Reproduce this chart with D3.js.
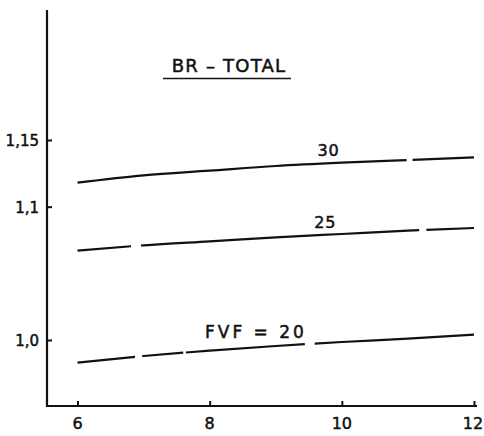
<!DOCTYPE html>
<html>
<head>
<meta charset="utf-8">
<script src="https://cdn.jsdelivr.net/npm/d3@7/dist/d3.min.js"></script>
<style>
  html, body { margin: 0; padding: 0; background: #fff; }
  svg { display: block; }
  text { font-family: "DejaVu Sans", sans-serif; fill: #111; stroke: #111; stroke-width: 0.5; }
</style>
</head>
<body>
<svg id="chart" width="484" height="436"></svg>
<script>
// Tubing size (x) against BR – TOTAL ratio for three FVF values
const xValues = [6, 7, 8, 9, 10, 11, 12];
const fvf30 = [1.118, 1.1235, 1.127, 1.1305, 1.133, 1.135, 1.137];
const fvf25 = [1.067, 1.071, 1.074, 1.077, 1.0795, 1.082, 1.084];
const fvf20 = [0.983, 0.988, 0.992, 0.9955, 0.9985, 1.001, 1.004];
const seriesLabels = ["30", "25", "FVF = 20"];
const xTicks = [6, 8, 10, 12];
const yTicks = [1.0, 1.1, 1.15];
const yTickLabels = ["1,0", "1,1", "1,15"];
const title = "BR – TOTAL";

const svg = d3.select("#chart");
const ink = "#111";

const x = d3.scaleLinear().domain([6, 12]).range([77.5, 474]);
const y = d3.scaleLinear().domain([1.0, 1.15]).range([340, 140]);

const axisX = 47, axisBottom = 406, axisTop = 10, axisRight = 477;

// Axis lines
svg.append("line")
  .attr("x1", axisX).attr("x2", axisX)
  .attr("y1", axisTop).attr("y2", axisBottom)
  .attr("stroke", ink).attr("stroke-width", 2.2);
svg.append("line")
  .attr("x1", axisX - 1).attr("x2", axisRight)
  .attr("y1", axisBottom).attr("y2", axisBottom)
  .attr("stroke", ink).attr("stroke-width", 2.2);

// X axis ticks (pointing inward) and labels
const xAxis = d3.axisTop(x).tickValues(xTicks).tickSize(5).tickFormat("");
const gx = svg.append("g").attr("transform", `translate(0,${axisBottom})`).call(xAxis);
gx.select(".domain").remove();
gx.selectAll(".tick line").attr("stroke", ink).attr("stroke-width", 2);
svg.selectAll(".xlab").data(xTicks).join("text")
  .attr("class", "xlab")
  .attr("x", d => x(d) + (d === 12 ? -1 : 0))
  .attr("y", 429)
  .attr("text-anchor", "middle")
  .attr("font-size", 16)
  .text(d => d);

// Y axis ticks (pointing inward) and labels
const yAxis = d3.axisRight(y).tickValues(yTicks).tickSize(5).tickFormat("");
const gy = svg.append("g").attr("transform", `translate(${axisX},0)`).call(yAxis);
gy.select(".domain").remove();
gy.selectAll(".tick line").attr("stroke", ink).attr("stroke-width", 2);
svg.selectAll(".ylab").data(yTicks).join("text")
  .attr("class", "ylab")
  .attr("x", 39)
  .attr("y", d => y(d) + 6)
  .attr("text-anchor", "end")
  .attr("font-size", 15)
  .text((d, i) => yTickLabels[i]);

// Curves, with the small pen lifts of the hand-drawn original (in x units)
const line = d3.line()
  .x((d, i) => x(xValues[i]))
  .y(d => y(d))
  .curve(d3.curveMonotoneX);

const penLifts = [
  [[10.98, 11.07]],
  [[6.81, 6.96], [11.17, 11.28]],
  [[6.87, 6.98], [7.6, 7.64], [9.44, 9.59]]
];

function lengthAtX(node, px) {
  let lo = 0, hi = node.getTotalLength();
  for (let k = 0; k < 30; k++) {
    const mid = (lo + hi) / 2;
    if (node.getPointAtLength(mid).x < px) lo = mid; else hi = mid;
  }
  return lo;
}

[fvf30, fvf25, fvf20].forEach((s, si) => {
  const path = svg.append("path")
    .attr("d", line(s))
    .attr("fill", "none")
    .attr("stroke", ink)
    .attr("stroke-width", 2.2);
  const node = path.node();
  const total = node.getTotalLength();
  const dashes = [];
  let pos = 0;
  penLifts[si].forEach(([a, b]) => {
    const la = lengthAtX(node, x(a)), lb = lengthAtX(node, x(b));
    dashes.push(la - pos, lb - la);
    pos = lb;
  });
  dashes.push(total - pos + 1, 0);
  path.attr("stroke-dasharray", dashes.join(","));
});

// Curve labels
svg.append("text").attr("x", x(9.8)).attr("y", y(fvf30[4]) - 7)
  .attr("text-anchor", "middle").attr("font-size", 16).attr("letter-spacing", 1)
  .text(seriesLabels[0]);
svg.append("text").attr("x", x(9.75)).attr("y", y(fvf25[4]) - 6)
  .attr("text-anchor", "middle").attr("font-size", 16).attr("letter-spacing", 1)
  .text(seriesLabels[1]);
svg.append("text").attr("x", x(8.7)).attr("y", y(fvf20[3]) - 8)
  .attr("text-anchor", "middle").attr("font-size", 17).attr("letter-spacing", 3)
  .text(seriesLabels[2]);

// Title with underline
svg.append("text").attr("x", 229).attr("y", 72)
  .attr("text-anchor", "middle").attr("font-size", 18).attr("letter-spacing", 1.2)
  .text(title);
svg.append("line")
  .attr("x1", 163).attr("x2", 291).attr("y1", 78.5).attr("y2", 78.5)
  .attr("stroke", ink).attr("stroke-width", 1.4);
</script>
</body>
</html>
